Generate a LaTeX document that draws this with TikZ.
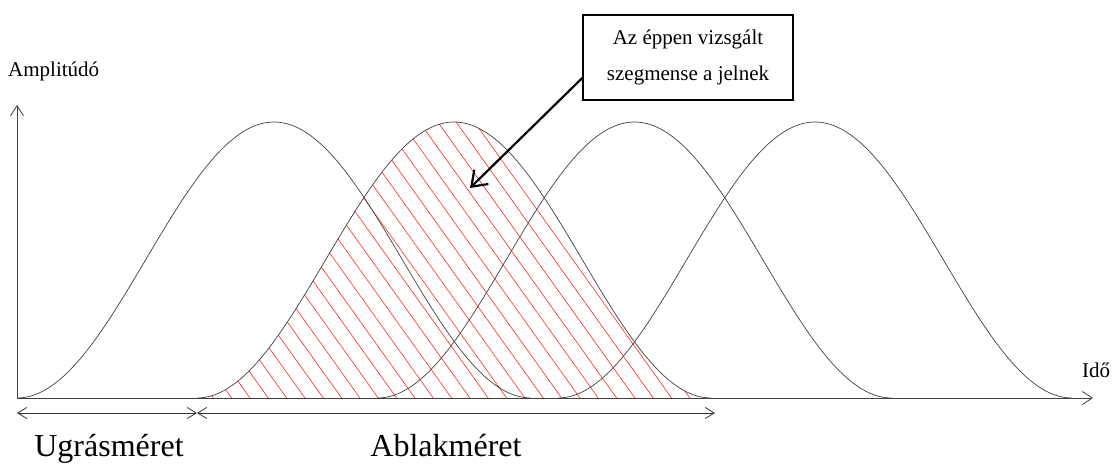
\documentclass[tikz,border=0pt]{standalone}
\usepackage{fontspec}
\setmainfont{Liberation Serif}
\usetikzlibrary{arrows.meta, calc}

\begin{document}
\begin{tikzpicture}[
  x=1pt, y=1pt,
  wave/.style={black!75, line width=0.7pt},
  hatch/.style={red!85, line width=0.6pt},
  axis/.style={-{Straight Barb[length=10pt, width=13pt]}, black!75, line width=0.8pt},
  span/.style={{Straight Barb[length=9pt, width=11pt]}-{Straight Barb[length=9pt, width=11pt]}, black!80, line width=0.8pt},
  lbl/.style={font=\fontsize{21}{25}\selectfont, inner sep=0pt},
  big/.style={font=\fontsize{32}{36}\selectfont, inner sep=0pt}
]
\useasboundingbox (0,0) rectangle (1112,464);

% hatched segment under the second window
\begin{scope}
  \clip plot[domain=0:514, samples=120] ({197+\x},{66+138*(1-cos(\x/514*360))}) -- cycle;
  \foreach \k in {-1,...,40}
    \draw[hatch] ({213.3+18.33*\k+10},52) -- ({213.3+18.33*\k-300},486);
\end{scope}

% overlapping windows
\foreach \s in {17,197,377.5,558}
  \draw[wave] plot[domain=0:514, samples=120] ({\s+\x},{66+138*(1-cos(\x/514*360))});

% axes
\coordinate (O) at (17,66);
\coordinate (ytop) at (17,359);
\coordinate (xend) at (1093,66);
\draw[axis] (O) -- (ytop);
\draw[axis] (O) -- (xend);
\node[lbl, anchor=base west] (amp) at (8,387) {Amplitúdó};
\node[lbl, anchor=base west] (ido) at (1082,86) {Idő};

% hop and window sizes
\coordinate (hopL) at (17,51);
\coordinate (hopR) at (197,51);
\coordinate (winR) at (715,51);
\draw[span] (hopL) -- (hopR);
\draw[span] (hopR) -- (winR);
\node[big, anchor=base] (hop) at (109,7.5) {Ugrásméret};
\node[big, anchor=base] (win) at (446,7.5) {Ablakméret};

% callout
\node[draw, line width=1.5pt, minimum width=210pt, minimum height=85pt,
      align=center, font=\fontsize{21}{36}\selectfont] (note) at (688,406.5)
      {Az éppen vizsgált\\szegmense a jelnek};
\coordinate (tip) at (470,276);
\draw[-{Straight Barb[length=14pt, width=20pt]}, line width=2.2pt]
  ([yshift=-20.5pt]note.west) -- (tip);
\end{tikzpicture}
\end{document}
